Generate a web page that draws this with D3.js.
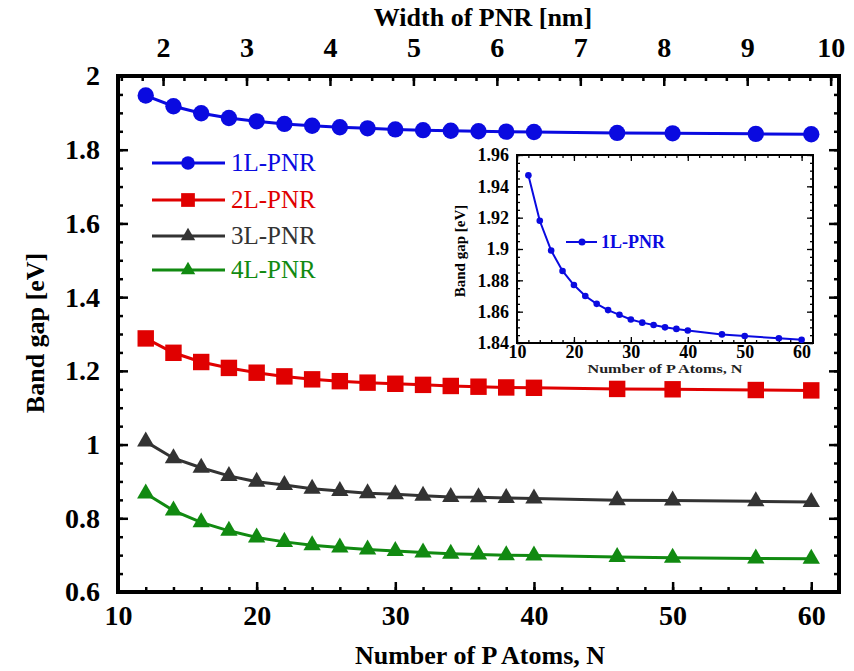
<!DOCTYPE html>
<html><head><meta charset="utf-8">
<script src="https://cdn.jsdelivr.net/npm/d3@7"></script>
<style>body{margin:0;background:#fff}</style>
</head><body><svg id="c" width="854" height="671"></svg>
<script>
const atoms = [12,14,16,18,20,22,24,26,28,30,32,34,36,38,40,46,50,56,60];
const gap1L = [1.947,1.918,1.899,1.886,1.877,1.870,1.865,1.861,1.858,1.855,1.853,1.8515,1.850,1.849,1.848,1.8455,1.8445,1.843,1.842];
const gap2L = [1.288,1.249,1.224,1.208,1.195,1.185,1.177,1.172,1.168,1.165,1.162,1.159,1.157,1.155,1.154,1.151,1.150,1.148,1.147];
const gap3L = [1.008,0.963,0.937,0.915,0.899,0.890,0.880,0.874,0.868,0.865,0.861,0.858,0.857,0.855,0.854,0.849,0.848,0.846,0.844];
const gap4L = [0.867,0.821,0.789,0.766,0.748,0.736,0.727,0.721,0.715,0.711,0.707,0.704,0.702,0.700,0.699,0.695,0.693,0.691,0.690];
const seriesNames = ["1L-PNR","2L-PNR","3L-PNR","4L-PNR"];
const xTicks = [10,20,30,40,50,60];
const yTicks = [0.6,0.8,1.0,1.2,1.4,1.6,1.8,2.0];
const widthTicks = [2,3,4,5,6,7,8,9,10];
const insetYTicks = [1.84,1.86,1.88,1.90,1.92,1.94,1.96];

const svg = d3.select("#c");
const L=118,R=839,T=76,B=592;
const x = d3.scaleLinear().domain([10,62]).range([L,R]);
const xw = d3.scaleLinear().domain([1.46,10.1]).range([L,R]);
const y = d3.scaleLinear().domain([0.6,2.0]).range([B,T]);
const font = "Liberation Serif, DejaVu Serif, Noto Serif, Times New Roman, serif";

const colors = ["#0a0ae0","#e00000","#333333","#118a11"];
const syms = [d3.symbolCircle,d3.symbolSquare,d3.symbolTriangle,d3.symbolTriangle];
const symSize = [210,270,130,130];
const data = [gap1L,gap2L,gap3L,gap4L];

function styleAxis(g, fs){
  g.select(".domain").remove();
  g.selectAll(".tick line").attr("stroke","#000").attr("stroke-width",2.5);
  g.selectAll(".tick text").style("font-family",font).style("font-weight","bold").style("font-size",fs+"px").attr("fill","#000");
}
const minorX = d3.range(10,62,2);
const minorY = d3.range(0.6,2.0001,0.05);
const minorW = d3.range(1.5,10.1,0.25);
const TF = 28;
svg.append("g").attr("transform",`translate(0,${B})`).call(d3.axisBottom(x).tickValues(xTicks).tickSize(-10).tickPadding(13)).call(g=>styleAxis(g,TF));
svg.append("g").attr("transform",`translate(0,${B})`).call(d3.axisBottom(x).tickValues(minorX).tickSize(-5).tickFormat("")).call(g=>styleAxis(g,TF));
svg.append("g").attr("transform",`translate(0,${T})`).call(d3.axisTop(xw).tickValues(widthTicks).tickSize(-10).tickPadding(19)).call(g=>styleAxis(g,TF));
svg.append("g").attr("transform",`translate(0,${T})`).call(d3.axisTop(xw).tickValues(minorW).tickSize(-5).tickFormat("")).call(g=>styleAxis(g,TF));
svg.append("g").attr("transform",`translate(${L},0)`).call(d3.axisLeft(y).tickValues(yTicks).tickSize(-10).tickPadding(18).tickFormat(v=>String(+v.toFixed(1)))).call(g=>styleAxis(g,TF));
svg.append("g").attr("transform",`translate(${L},0)`).call(d3.axisLeft(y).tickValues(minorY).tickSize(-5).tickFormat("")).call(g=>styleAxis(g,TF));
svg.append("g").attr("transform",`translate(${R},0)`).call(d3.axisRight(y).tickValues(yTicks).tickSize(-10).tickFormat("")).call(g=>styleAxis(g,TF));
svg.append("g").attr("transform",`translate(${R},0)`).call(d3.axisRight(y).tickValues(minorY).tickSize(-5).tickFormat("")).call(g=>styleAxis(g,TF));

svg.append("rect").attr("x",L).attr("y",T).attr("width",R-L).attr("height",B-T).attr("fill","none").attr("stroke","#000").attr("stroke-width",4);

function title(sel){ return sel.style("font-family",font).style("font-weight","bold").style("font-size","26px").attr("text-anchor","middle"); }
svg.append("text").attr("x",483).attr("y",26).call(title).text("Width of PNR [nm]");
svg.append("text").attr("x",480).attr("y",664).call(title).text("Number of P Atoms, N");
svg.append("text").attr("transform","translate(44,333) rotate(-90)").call(title).text("Band gap [eV]");

const line = d3.line().x((d,i)=>x(atoms[i])).y(d=>y(d));
data.forEach((vals,k)=>{
  const g = svg.append("g");
  g.append("path").datum(vals).attr("d",line).attr("fill","none").attr("stroke",colors[k]).attr("stroke-width",3);
  g.selectAll("path.m").data(vals).join("path").attr("class","m")
    .attr("transform",(d,i)=>`translate(${x(atoms[i])},${y(d)})`)
    .attr("d",d3.symbol(syms[k],symSize[k])).attr("fill",colors[k]);
});

const legY = [163,200,236,270];
seriesNames.forEach((n,k)=>{
  const g = svg.append("g");
  g.append("line").attr("x1",152).attr("x2",225).attr("y1",legY[k]).attr("y2",legY[k]).attr("stroke",colors[k]).attr("stroke-width",3);
  g.append("path").attr("transform",`translate(188,${legY[k]})`).attr("d",d3.symbol(syms[k],symSize[k]*0.7)).attr("fill",colors[k]);
  g.append("text").attr("x",231).attr("y",legY[k]+8).style("font-family",font).style("font-size","25px").attr("fill",colors[k]).text(n);
});

const iL=517,iR=813,iT=155,iB=343;
const ix = d3.scaleLinear().domain([10,62]).range([iL,iR]);
const iy = d3.scaleLinear().domain([1.84,1.96]).range([iB,iT]);
svg.append("rect").attr("x",iL).attr("y",iT).attr("width",iR-iL).attr("height",iB-iT).attr("fill","#fff");
function styleIn(g){
  g.select(".domain").remove();
  g.selectAll(".tick line").attr("stroke","#000").attr("stroke-width",1.3);
  g.selectAll(".tick text").style("font-family",font).style("font-weight","bold").style("font-size","18px").attr("fill","#000");
}
const iMinorX = d3.range(10,62,2);
const iMinorY = d3.range(1.84,1.9601,0.005);
svg.append("g").attr("transform",`translate(0,${iB})`).call(d3.axisBottom(ix).tickValues(xTicks).tickSize(-6).tickPadding(2)).call(styleIn);
svg.append("g").attr("transform",`translate(0,${iB})`).call(d3.axisBottom(ix).tickValues(iMinorX).tickSize(-3).tickFormat("")).call(styleIn);
svg.append("g").attr("transform",`translate(0,${iT})`).call(d3.axisTop(ix).tickValues(xTicks).tickSize(-6).tickFormat("")).call(styleIn);
svg.append("g").attr("transform",`translate(0,${iT})`).call(d3.axisTop(ix).tickValues(iMinorX).tickSize(-3).tickFormat("")).call(styleIn);
svg.append("g").attr("transform",`translate(${iL},0)`).call(d3.axisLeft(iy).tickValues(insetYTicks).tickSize(-6).tickPadding(8).tickFormat(v=>String(+v.toFixed(2)))).call(styleIn);
svg.append("g").attr("transform",`translate(${iL},0)`).call(d3.axisLeft(iy).tickValues(iMinorY).tickSize(-3).tickFormat("")).call(styleIn);
svg.append("g").attr("transform",`translate(${iR},0)`).call(d3.axisRight(iy).tickValues(insetYTicks).tickSize(-6).tickFormat("")).call(styleIn);
svg.append("g").attr("transform",`translate(${iR},0)`).call(d3.axisRight(iy).tickValues(iMinorY).tickSize(-3).tickFormat("")).call(styleIn);
svg.append("rect").attr("x",iL).attr("y",iT).attr("width",iR-iL).attr("height",iB-iT).attr("fill","none").attr("stroke","#000").attr("stroke-width",2);

const iline = d3.line().x((d,i)=>ix(atoms[i])).y(d=>iy(d));
svg.append("path").datum(gap1L).attr("d",iline).attr("fill","none").attr("stroke",colors[0]).attr("stroke-width",2);
svg.selectAll("circle.im").data(gap1L).join("circle").attr("class","im").attr("cx",(d,i)=>ix(atoms[i])).attr("cy",d=>iy(d)).attr("r",3.3).attr("fill",colors[0]);
svg.append("line").attr("x1",566).attr("x2",597).attr("y1",242).attr("y2",242).attr("stroke",colors[0]).attr("stroke-width",2);
svg.append("circle").attr("cx",582).attr("cy",242).attr("r",3.5).attr("fill",colors[0]);
svg.append("text").attr("x",601).attr("y",248).style("font-family",font).style("font-weight","bold").style("font-size","18px").attr("fill",colors[0]).text("1L-PNR");
svg.append("text").attr("x",665).attr("y",373).attr("text-anchor","middle").attr("textLength",155).attr("lengthAdjust","spacingAndGlyphs").style("font-family",font).style("font-weight","bold").style("font-size","13px").attr("fill","#222").text("Number of P Atoms, N");
svg.append("text").attr("transform","translate(465,251) rotate(-90)").attr("text-anchor","middle").style("font-family",font).style("font-weight","bold").style("font-size","15px").text("Band gap [eV]");
</script></body></html>
